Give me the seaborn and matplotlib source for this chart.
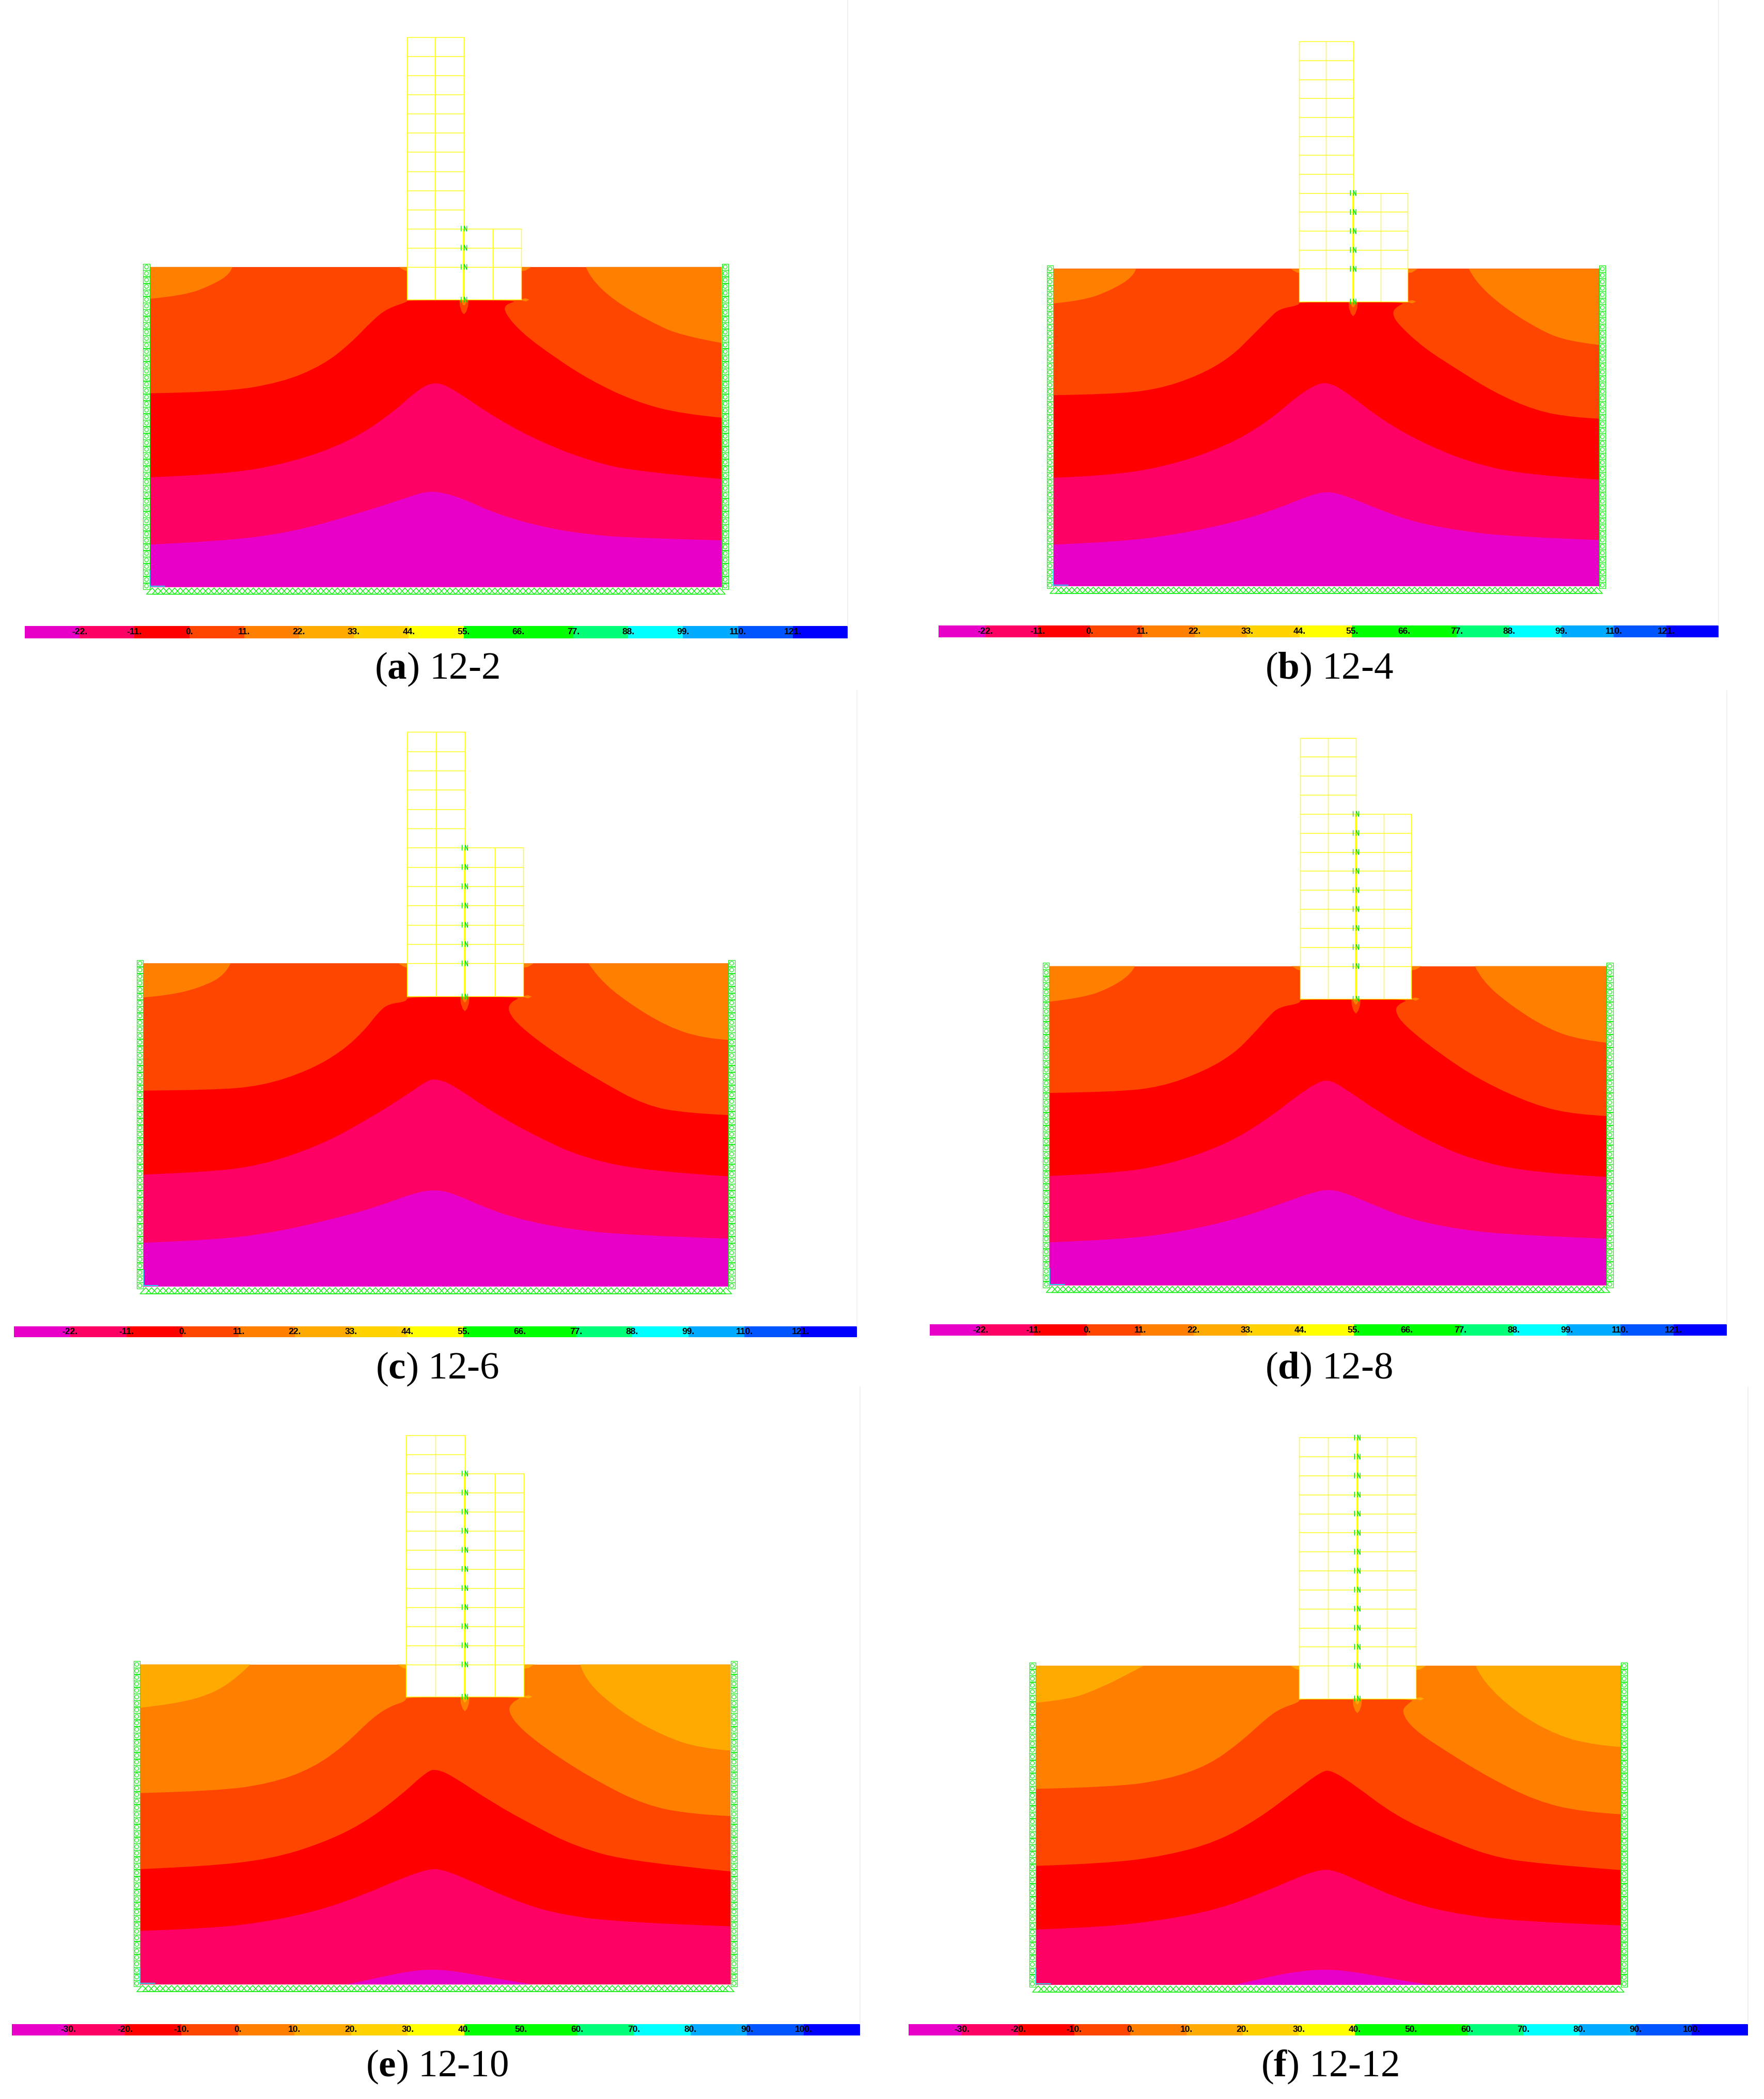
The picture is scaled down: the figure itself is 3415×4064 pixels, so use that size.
#!/usr/bin/env python3
"""Six temperature contour panels of the 12-storey frame on soil, with colour bars."""

import numpy as np
import pandas as pd
import matplotlib
matplotlib.use("Agg")
import matplotlib.pyplot as plt
from matplotlib.colors import ListedColormap
from matplotlib.lines import Line2D
from matplotlib.patches import PathPatch
from matplotlib.path import Path
import seaborn as sns

FIG_W, FIG_H = 3415, 4064

# band colours of the FE post-processor legend, low to high
BAND_COLORS = ["#E800C8", "#FF0064", "#FF0000", "#FF4600", "#FF8000", "#FFAA00", "#FFD200",
               "#FFFF00", "#00FF00", "#00FF00", "#00FF78", "#00FFFF", "#00AAFF", "#0055FF", "#0000FF"]
GREEN = "#18F018"
YELLOW = "#FFFF00"

# colour bar cell floors and labels
BAR_FLOORS_11 = [-33, -22, -11, 0, 11, 22, 33, 44, 55, 66, 77, 88, 99, 110, 121]
BAR_FLOORS_10 = [-40, -30, -20, -10, 0, 10, 20, 30, 40, 50, 60, 70, 80, 90, 100]
BAR_LABELS_11 = ["-22.", "-11.", "0.", "11.", "22.", "33.", "44.", "55.", "66.", "77.", "88.", "99.", "110.", "121."]
BAR_LABELS_10 = ["-30.", "-20.", "-10.", "0.", "10.", "20.", "30.", "40.", "50.", "60.", "70.", "80.", "90.", "100."]
# part of the first bar cell that is cut off in the screenshot
BAR_CUT = [0, 0.11, 0, 0.05, 0, 0.05]

CAPTION_LETTERS = ["a", "b", "c", "d", "e", "f"]
CAPTION_NAMES = ["12-2", "12-4", "12-6", "12-8", "12-10", "12-12"]
SIDE_STOREYS = [2, 4, 6, 8, 10, 12]
TALL_STOREYS = 12

# soil size in model units, storey height and foundation depth
SOIL_W = [1249, 1183, 1268, 1207, 1280, 1268]
SOIL_H = [694, 688, 701, 692, 694, 692]
STOREY_H = [41.5, 41.1, 41.8, 41.25, 41.4, 41.25]
FOUND_D = [71, 71, 72, 71, 70, 71]

# frame column lines, model x
FRAME_X_A = [562, 623, 686, 749, 811]
FRAME_X_B = [533, 591, 650, 710, 768]
FRAME_X_C = [571, 634, 697, 762, 824]
FRAME_X_D = [543, 603, 664, 724, 784]
FRAME_X_E = [576, 640, 704, 769, 832]
FRAME_X_F = [571, 634, 697, 761, 824]

# isotherms, (x, y) in model units, panel a
A_EDGE1 = [(0, 92), (156, 99), (307, 118), (458, 160), (559, 193), (599, 206), (629, 207), (680, 193),
           (760, 157), (861, 129), (962, 113), (1062, 106), (1249, 101)]
A_EDGE2 = [(0, 238), (156, 243), (307, 269), (438, 316), (529, 377), (589, 431), (624, 445), (660, 431),
           (760, 363), (861, 311), (962, 273), (1062, 250), (1249, 234)]
A_EDGE3 = [(0, 420), (156, 422), (287, 443), (378, 481), (438, 528), (488, 580), (519, 604), (562, 618),
           (562, 622), (811, 622), (775, 613), (775, 594), (811, 552), (881, 500), (962, 448), (1062, 401),
           (1163, 375), (1249, 367)]
A_CORNER_L = [(0, 625), (76, 632), (136, 655), (176, 679), (180, 694)]
A_CORNER_R = [(952, 694), (962, 670), (1012, 622), (1093, 575), (1163, 544), (1249, 529)]

# panel b
B_EDGE1 = [(0, 90), (144, 96), (274, 113), (404, 141), (494, 171), (554, 196), (594, 206), (634, 196),
           (694, 171), (774, 141), (874, 121), (994, 107), (1183, 100)]
B_EDGE2 = [(0, 235), (114, 239), (244, 259), (374, 303), (464, 356), (534, 416), (574, 439), (594, 441),
           (624, 429), (714, 359), (804, 309), (904, 268), (1024, 241), (1183, 231)]
B_EDGE3 = [(0, 414), (124, 416), (224, 426), (314, 456), (384, 496), (434, 546), (469, 581), (489, 601),
           (533, 609), (533, 617), (768, 617), (744, 606), (734, 591), (749, 566), (804, 516), (874, 471),
           (954, 421), (1044, 381), (1124, 366), (1183, 363)]
B_CORNER_L = [(0, 613), (64, 619), (124, 641), (174, 671), (179, 688)]
B_CORNER_R = [(901, 688), (914, 661), (974, 606), (1054, 556), (1114, 531), (1183, 523)]

# panel c
C_EDGE1 = [(0, 95), (157, 101), (287, 118), (417, 148), (507, 173), (587, 203), (635, 211), (677, 200),
           (737, 173), (807, 148), (917, 125), (1057, 111), (1268, 104)]
C_EDGE2 = [(0, 243), (137, 248), (257, 263), (387, 308), (487, 363), (567, 413), (617, 448), (635, 450),
           (667, 440), (757, 378), (857, 323), (957, 278), (1097, 250), (1268, 239)]
C_EDGE3 = [(0, 425), (147, 426), (257, 435), (357, 468), (427, 508), (477, 553), (512, 598), (532, 613),
           (571, 618), (571, 629), (824, 629), (797, 618), (789, 598), (817, 563), (897, 503), (987, 448),
           (1087, 393), (1177, 376), (1268, 372)]
C_CORNER_L = [(0, 627), (57, 632), (122, 648), (177, 675), (189, 701)]
C_CORNER_R = [(965, 701), (987, 668), (1047, 618), (1137, 563), (1217, 538), (1268, 535)]

# panel d
D_EDGE1 = [(0, 93), (152, 99), (282, 115), (412, 145), (502, 177), (572, 202), (607, 208), (642, 200),
           (712, 170), (782, 143), (892, 120), (1022, 108), (1207, 101)]
D_EDGE2 = [(0, 237), (132, 242), (252, 260), (382, 305), (472, 360), (542, 415), (587, 443), (607, 444),
           (632, 432), (722, 370), (812, 318), (912, 273), (1052, 243), (1207, 235)]
D_EDGE3 = [(0, 417), (142, 419), (242, 430), (332, 463), (397, 500), (442, 545), (477, 585), (497, 603),
           (543, 611), (543, 621), (784, 621), (757, 610), (748, 595), (767, 565), (842, 505), (932, 445),
           (1052, 390), (1142, 370), (1207, 367)]
D_CORNER_L = [(0, 615), (72, 623), (132, 645), (177, 675), (185, 692)]
D_CORNER_R = [(922, 692), (937, 660), (1002, 605), (1082, 555), (1152, 532), (1207, 526)]

# panel e, one band warmer than a-d, magenta only as a hump at the base
E_EDGE0 = [(449, 0), (514, 14), (584, 29), (639, 33), (694, 27), (764, 14), (849, 0)]
E_EDGE1 = [(0, 116), (144, 121), (264, 134), (384, 159), (484, 194), (564, 229), (624, 250), (654, 250),
           (714, 226), (794, 189), (894, 154), (1044, 134), (1280, 126)]
E_EDGE2 = [(0, 250), (144, 256), (284, 272), (394, 306), (484, 349), (564, 409), (624, 464), (644, 466),
           (674, 454), (764, 394), (854, 344), (944, 299), (1064, 266), (1280, 245)]
E_EDGE3 = [(0, 415), (164, 419), (284, 436), (374, 469), (444, 519), (504, 579), (544, 604), (576, 614),
           (576, 624), (832, 624), (809, 614), (796, 594), (824, 554), (904, 494), (994, 439), (1094, 389),
           (1194, 369), (1280, 365)]
E_CORNER_L = [(0, 600), (74, 608), (154, 629), (209, 664), (239, 694)]
E_CORNER_R = [(954, 694), (964, 659), (1044, 589), (1134, 539), (1214, 512), (1280, 507)]

# panel f
F_EDGE0 = [(432, 0), (502, 17), (572, 30), (632, 34), (692, 28), (762, 15), (852, 0)]
F_EDGE1 = [(0, 120), (142, 125), (272, 140), (392, 163), (492, 200), (572, 235), (617, 250), (647, 249),
           (712, 220), (792, 185), (892, 157), (1042, 137), (1268, 129)]
F_EDGE2 = [(0, 258), (152, 263), (282, 280), (392, 310), (482, 360), (562, 420), (622, 465), (642, 464),
           (682, 440), (782, 365), (882, 320), (982, 280), (1082, 263), (1268, 249)]
F_EDGE3 = [(0, 425), (172, 429), (282, 445), (372, 475), (442, 525), (502, 580), (532, 600), (571, 613),
           (571, 621), (824, 621), (807, 610), (792, 593), (817, 555), (892, 505), (982, 450), (1082, 400),
           (1182, 375), (1268, 370)]
F_CORNER_L = [(0, 612), (72, 618), (142, 645), (192, 670), (234, 692)]
F_CORNER_R = [(954, 692), (967, 660), (1042, 590), (1132, 540), (1212, 520), (1268, 516)]

# small warm spots, relative to the pile foot and the foundation corners
TIP_OUTER = [(-10, 0), (-9, -14), (-5, -26), (0, -32), (5, -26), (9, -14), (10, 0)]
TIP_INNER = [(-7, 0), (-3, -10), (0, -13), (3, -10), (7, 0)]
BUMP_L = [(-18, 0), (-12, -4), (-5, -8), (0, -9), (0, 0)]
BUMP_R = [(0, 0), (0, -9), (9, -8), (16, -4), (22, 0)]
SPIKE_R = [(0, 1), (10, 3), (18, 0), (10, -4), (0, -1)]

# page layout, reference pixels: soil box (left, right, top, bottom)
SOIL_BOX = [(290.2, 1397.3, 516.8, 1136.4), (2039.3, 3095.5, 520.5, 1134.8),
            (277.7, 1409.8, 1865.2, 2491.0), (2032.1, 3109.8, 1870.5, 2488.4),
            (271.4, 1414.3, 3222.5, 3842.1), (2005.4, 3137.5, 3225.2, 3843.0)]
BAR_BOX = [(48, 1641, 1212, 1236), (1817, 3327, 1211, 1234),
           (27, 1659, 2568, 2589), (1800, 3343, 2564, 2586),
           (23, 1665, 3919, 3941), (1759, 3384, 3919, 3941)]
CAPTION_XY = [(846, 1314), (2573, 1314), (847, 2669), (2573, 2669), (846, 4020), (2574, 4020)]
FRAME_LINE = [(1641, 0, 1212), (3327, 0, 1211), (1659, 1337, 2568),
              (3343, 1337, 2564), (1665, 2685, 3919), (3384, 2685, 3919)]

PANEL_FRAME = [FRAME_X_A, FRAME_X_B, FRAME_X_C, FRAME_X_D, FRAME_X_E, FRAME_X_F]
PANEL_EDGES = [[None, A_EDGE1, A_EDGE2, A_EDGE3], [None, B_EDGE1, B_EDGE2, B_EDGE3],
               [None, C_EDGE1, C_EDGE2, C_EDGE3], [None, D_EDGE1, D_EDGE2, D_EDGE3],
               [E_EDGE0, E_EDGE1, E_EDGE2, E_EDGE3], [F_EDGE0, F_EDGE1, F_EDGE2, F_EDGE3]]
PANEL_CORNERS = [(A_CORNER_L, A_CORNER_R), (B_CORNER_L, B_CORNER_R), (C_CORNER_L, C_CORNER_R),
                 (D_CORNER_L, D_CORNER_R), (E_CORNER_L, E_CORNER_R), (F_CORNER_L, F_CORNER_R)]
PANEL_WARMER = [0, 0, 0, 0, 1, 1]

# marker shapes: hollow support triangle and the |N spring link on the pile line
TRIANGLE = Path([(-1, -0.55), (0, 0.55), (1, -0.55), (-1, -0.55)],
                [Path.MOVETO, Path.LINETO, Path.LINETO, Path.CLOSEPOLY])
LINK = Path([(-1, -1), (-1, 1), (0.1, -1), (0.1, 1), (1, -1), (1, 1), (0.1, 1), (1, -1)],
            [Path.MOVETO, Path.LINETO, Path.MOVETO, Path.LINETO,
             Path.MOVETO, Path.LINETO, Path.MOVETO, Path.LINETO])


def fig_rect(left, right, top, bottom):
    return [left / FIG_W, 1 - bottom / FIG_H, (right - left) / FIG_W, (bottom - top) / FIG_H]


def fill_poly(ax, points, color, dx=0, dy=0):
    xs, ys = zip(*points)
    ax.fill(np.array(xs) + dx, np.array(ys) + dy, color=color, linewidth=0)


def fill_edge(ax, edge, closing, color):
    """Fill under an isotherm, its read points used as quadratic curve controls."""
    pts = np.array(edge, dtype=float)
    verts = [pts[0]]
    codes = [Path.MOVETO]
    for i in range(1, len(pts) - 1):
        end = pts[i + 1] if i == len(pts) - 2 else (pts[i] + pts[i + 1]) / 2
        verts += [pts[i], end]
        codes += [Path.CURVE3, Path.CURVE3]
    for p in closing:
        verts.append(p)
        codes.append(Path.LINETO)
    verts.append(pts[0])
    codes.append(Path.CLOSEPOLY)
    ax.add_patch(PathPatch(Path(verts, codes), facecolor=color, edgecolor="none", linewidth=0))


def draw_frame(ax, columns, ground, storey, found, n_side):
    """Yellow frame grid through seaborn, one unit per straight bar."""
    tall_top = ground + TALL_STOREYS * storey
    side_top = ground + n_side * storey
    levels = ground + np.arange(TALL_STOREYS + 1) * storey
    bars = []
    for x in columns[:3]:
        bars.append((x, found, x, tall_top))
    for x in columns[2:]:
        bars.append((x, found, x, side_top))
    for y in levels:
        bars.append((columns[0], y, columns[2], y))
        if y <= side_top + 1:
            bars.append((columns[2], y, columns[4], y))
    bars.append((columns[0], found, columns[4], found))
    rows = []
    for i, (x0, y0, x1, y1) in enumerate(bars):
        rows.append({"bar": i, "x": x0, "y": y0})
        rows.append({"bar": i, "x": x1, "y": y1})
    df = pd.DataFrame(rows)
    sns.lineplot(data=df, x="x", y="y", units="bar", estimator=None, sort=False,
                 color=YELLOW, linewidth=1.0, ax=ax, legend=False)
    ax.plot([columns[2], columns[2]], [found, side_top], color=YELLOW, lw=2.6, solid_capstyle="butt")


def draw_supports(ax, width, height):
    """Roller columns at both soil sides and pinned triangles along the base."""
    side_y = np.linspace(2, height, 50)
    for x in (-7.5, width + 7.5):
        sns.scatterplot(x=np.full(50, x), y=side_y, marker="s", s=76, facecolor="none",
                        edgecolor=GREEN, linewidth=0.9, ax=ax, legend=False)
        sns.scatterplot(x=np.full(50, x), y=side_y, marker="o", s=30, facecolor="none",
                        edgecolor=GREEN, linewidth=0.9, ax=ax, legend=False)
    base_x = np.linspace(5, width - 5, 102)
    sns.scatterplot(x=base_x, y=np.full(102, -9), marker=TRIANGLE, s=250, facecolor="none",
                    edgecolor=GREEN, linewidth=1.1, ax=ax, legend=False)
    ax.plot([0, 0, 32], [36, 2, 2], color="#00FFFF", lw=1.2)


def draw_panel(fig, idx):
    width, height = SOIL_W[idx], SOIL_H[idx]
    left, right, top, bottom = SOIL_BOX[idx]
    sx = (right - left) / width
    sy = (bottom - top) / height
    margin, head = 30, 560
    rect = fig_rect(left - margin * sx, right + margin * sx, top - head * sy, bottom + margin * sy)
    ax = fig.add_axes(rect)
    ax.patch.set_alpha(0)

    shift = PANEL_WARMER[idx]
    columns = PANEL_FRAME[idx]
    storey = STOREY_H[idx]
    found = height - FOUND_D[idx]
    base_color = BAND_COLORS[3 + shift]
    corner_color = BAND_COLORS[4 + shift]

    # painter's order: whole soil, warm corners, then colder bands upward from the isotherms
    fill_poly(ax, [(0, 0), (width, 0), (width, height), (0, height)], base_color)
    corner_l, corner_r = PANEL_CORNERS[idx]
    fill_edge(ax, corner_l, [(0, height)], corner_color)
    fill_edge(ax, corner_r, [(width, height)], corner_color)
    edges = PANEL_EDGES[idx]
    for level in (3, 2, 1, 0):
        if edges[level] is None:
            continue
        fill_edge(ax, edges[level], [(width, 0), (0, 0)], BAND_COLORS[level - 1 + shift])

    # foundation pit, warm spots around it
    fill_poly(ax, [(columns[0], found), (columns[4], found), (columns[4], height), (columns[0], height)], "white")
    fill_poly(ax, BUMP_L, corner_color, columns[0], height)
    fill_poly(ax, BUMP_R, corner_color, columns[4], height)
    fill_poly(ax, SPIKE_R, corner_color, columns[4], found)
    fill_poly(ax, TIP_OUTER, base_color, columns[2], found)
    fill_poly(ax, TIP_INNER, corner_color, columns[2], found)

    draw_frame(ax, columns, height, storey, found, SIDE_STOREYS[idx])

    link_y = np.concatenate(([found], height + np.arange(SIDE_STOREYS[idx] + 1) * storey))
    sns.scatterplot(x=np.full(len(link_y), columns[2]), y=link_y, marker=LINK, s=60, facecolor="none",
                    edgecolor="#00E400", linewidth=1.0, ax=ax, legend=False, zorder=5)

    draw_supports(ax, width, height)

    ax.set_xlim(-margin, width + margin)
    ax.set_ylim(-margin, height + head)
    ax.axis("off")


def draw_bar(fig, idx):
    left, right, top, bottom = BAR_BOX[idx]
    ax = fig.add_axes(fig_rect(left, right, top, bottom))
    floors = BAR_FLOORS_11 if idx < 4 else BAR_FLOORS_10
    labels = BAR_LABELS_11 if idx < 4 else BAR_LABELS_10
    sns.heatmap(np.array([floors]), cmap=ListedColormap(BAND_COLORS), cbar=False, ax=ax,
                xticklabels=False, yticklabels=False, vmin=floors[0], vmax=floors[-1])
    ax.set_xlim(BAR_CUT[idx], len(floors))
    for i, label in enumerate(labels):
        ax.text(i + 1, 0.5, label, ha="center", va="center", fontsize=12.5, color="black",
                fontweight="bold", family=["Liberation Sans Narrow", "Liberation Sans"])


def main():
    sns.set_theme(style="white")
    plt.rcParams["font.family"] = ["Liberation Serif", "DejaVu Serif"]
    plt.rcParams["mathtext.fontset"] = "custom"
    plt.rcParams["mathtext.rm"] = "Liberation Serif"
    plt.rcParams["mathtext.bf"] = "Liberation Serif:bold"

    fig = plt.figure(figsize=(FIG_W / 100, FIG_H / 100), dpi=100, facecolor="white")
    for idx in range(6):
        x, y0, y1 = FRAME_LINE[idx]
        fig.add_artist(Line2D([x / FIG_W, x / FIG_W], [1 - y0 / FIG_H, 1 - y1 / FIG_H], color="#EDEDED", lw=1.2))
        draw_panel(fig, idx)
        draw_bar(fig, idx)
        cx, cy = CAPTION_XY[idx]
        fig.text(cx / FIG_W, 1 - cy / FIG_H, rf"($\mathbf{{{CAPTION_LETTERS[idx]}}}$) {CAPTION_NAMES[idx]}",
                 ha="center", va="baseline", fontsize=54, color="black")

    fig.savefig("out.png", dpi=100)


if __name__ == "__main__":
    main()
